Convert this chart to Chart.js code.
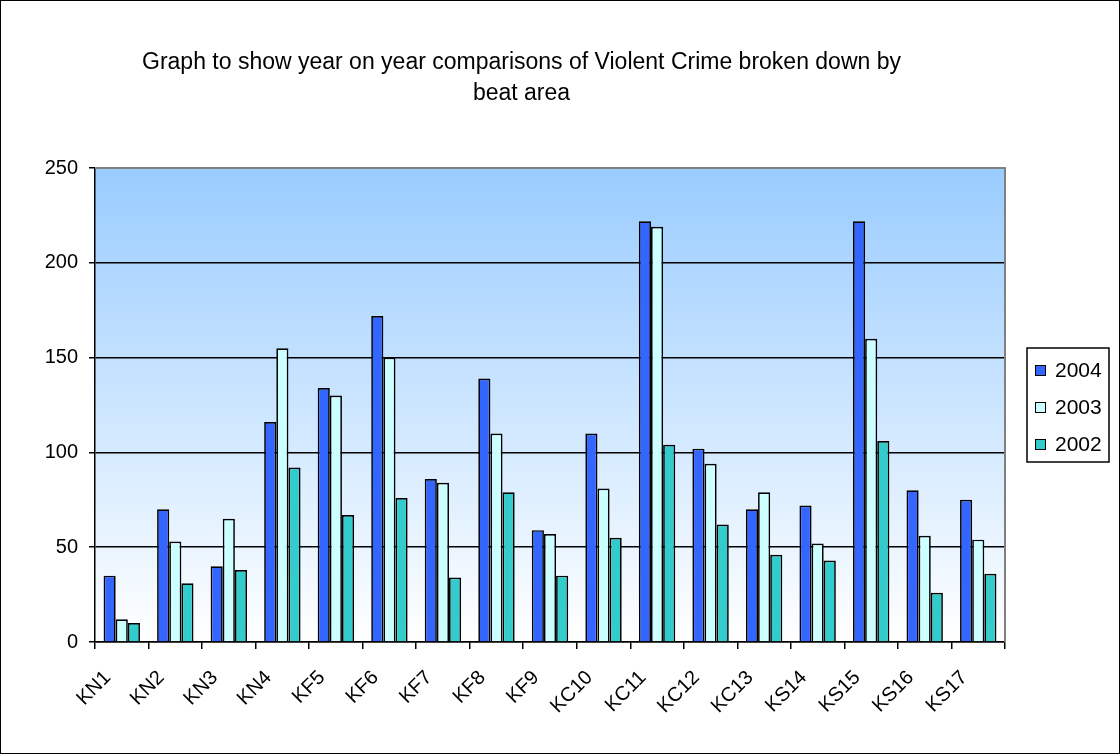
<!DOCTYPE html>
<html>
<head>
<meta charset="utf-8">
<script src="https://cdn.jsdelivr.net/npm/chart.js@4/dist/chart.umd.min.js"></script>
<style>
  html, body { margin: 0; padding: 0; background: #fff; }
  #wrap { width: 1120px; height: 754px; }
</style>
</head>
<body>
<div id="wrap"><canvas id="chart" width="1120" height="754"></canvas></div>
<script>
// beat areas and yearly counts of violent crime
const beats = ['KN1','KN2','KN3','KN4','KF5','KF6','KF7','KF8','KF9','KC10','KC11','KC12','KC13','KS14','KS15','KS16','KS17'];
const y2004 = [35, 70, 40, 116, 134, 172, 86, 139, 59, 110, 222, 102, 70, 72, 222, 80, 75];
const y2003 = [12, 53, 65, 155, 130, 150, 84, 110, 57, 81, 219, 94, 79, 52, 160, 56, 54];
const y2002 = [10, 31, 38, 92, 67, 76, 34, 79, 35, 55, 104, 62, 46, 43, 106, 26, 36];
const yTicks = [0, 50, 100, 150, 200, 250];

const FONT = 'Liberation Sans, Arial, sans-serif';

// blue fade behind the bars + grey frame on top/right
const plotBackground = {
  id: 'plotBackground',
  beforeDraw(chart) {
    const { ctx, chartArea: a } = chart;
    const g = ctx.createLinearGradient(0, a.top, 0, a.bottom);
    g.addColorStop(0, '#99CCFF');
    g.addColorStop(1, '#FFFFFF');
    ctx.save();
    ctx.fillStyle = g;
    ctx.fillRect(a.left, a.top, a.right - a.left, a.bottom - a.top);
    ctx.restore();
  },
  afterDraw(chart) {
    const { ctx, chartArea: a } = chart;
    ctx.save();
    ctx.strokeStyle = '#808080';
    ctx.lineWidth = 2;
    ctx.beginPath();
    ctx.moveTo(a.left, a.top);
    ctx.lineTo(a.right, a.top);
    ctx.lineTo(a.right, a.bottom);
    ctx.stroke();
    // outer frame
    ctx.strokeStyle = '#000';
    ctx.lineWidth = 1;
    ctx.strokeRect(0.5, 0.5, chart.width - 1, chart.height - 1);
    ctx.restore();
  }
};

// boxed legend on the right
const boxLegend = {
  id: 'boxLegend',
  afterDraw(chart) {
    const { ctx } = chart;
    const x = 1027, y = 348, w = 82, h = 114;
    ctx.save();
    ctx.fillStyle = '#fff';
    ctx.fillRect(x, y, w, h);
    ctx.strokeStyle = '#000';
    ctx.lineWidth = 1.5;
    ctx.strokeRect(x, y, w, h);
    ctx.font = '21px ' + FONT;
    ctx.textBaseline = 'middle';
    chart.data.datasets.forEach((ds, i) => {
      const cy = y + 22 + i * 37;
      ctx.fillStyle = ds.backgroundColor;
      ctx.fillRect(x + 8, cy - 5, 11, 11);
      ctx.strokeStyle = '#000';
      ctx.lineWidth = 1;
      ctx.strokeRect(x + 8.5, cy - 4.5, 10, 10);
      ctx.fillStyle = '#000';
      ctx.fillText(ds.label, x + 28, cy + 1);
    });
    ctx.restore();
  }
};

const ctx = document.getElementById('chart').getContext('2d');

new Chart(ctx, {
  type: 'bar',
  data: {
    labels: beats,
    datasets: [
      { label: '2004', data: y2004, backgroundColor: '#3366FF' },
      { label: '2003', data: y2003, backgroundColor: '#CCFFFF' },
      { label: '2002', data: y2002, backgroundColor: '#33CCCC' }
    ].map(d => Object.assign(d, { borderColor: '#000', borderWidth: 1.7 }))
  },
  options: {
    responsive: false,
    animation: false,
    layout: { padding: { top: 0, right: 115, bottom: 0, left: 38 } },
    datasets: {
      bar: { categoryPercentage: 0.68, barPercentage: 1 }
    },
    plugins: {
      legend: { display: false },
      tooltip: { enabled: false },
      title: {
        display: true,
        text: ['Graph to show year on year comparisons of Violent Crime broken down by', 'beat area'],
        color: '#000',
        font: { family: FONT, size: 23, weight: 'normal', lineHeight: 1.35 },
        padding: { top: 47, bottom: 59 }
      }
    },
    scales: {
      x: {
        grid: { display: true, drawOnChartArea: false, offset: true, color: '#000', lineWidth: 1.5, tickLength: 7 },
        border: { color: '#000', width: 1.5 },
        ticks: {
          color: '#000',
          font: { family: FONT, size: 20 },
          minRotation: 45,
          maxRotation: 45,
          padding: 17,
          labelOffset: -14,
          autoSkip: false
        },
        afterFit(scale) { scale.height = 112; }
      },
      y: {
        min: 0,
        max: 250,
        afterBuildTicks(scale) { scale.ticks = yTicks.map(v => ({ value: v })); },
        grid: { color: '#000', lineWidth: 1.5, tickLength: 6 },
        border: { color: '#000', width: 1.5 },
        ticks: {
          color: '#000',
          font: { family: FONT, size: 20 },
          padding: 11
        },
        afterFit(scale) { scale.width = 57; }
      }
    }
  },
  plugins: [plotBackground, boxLegend]
});
</script>
</body>
</html>
